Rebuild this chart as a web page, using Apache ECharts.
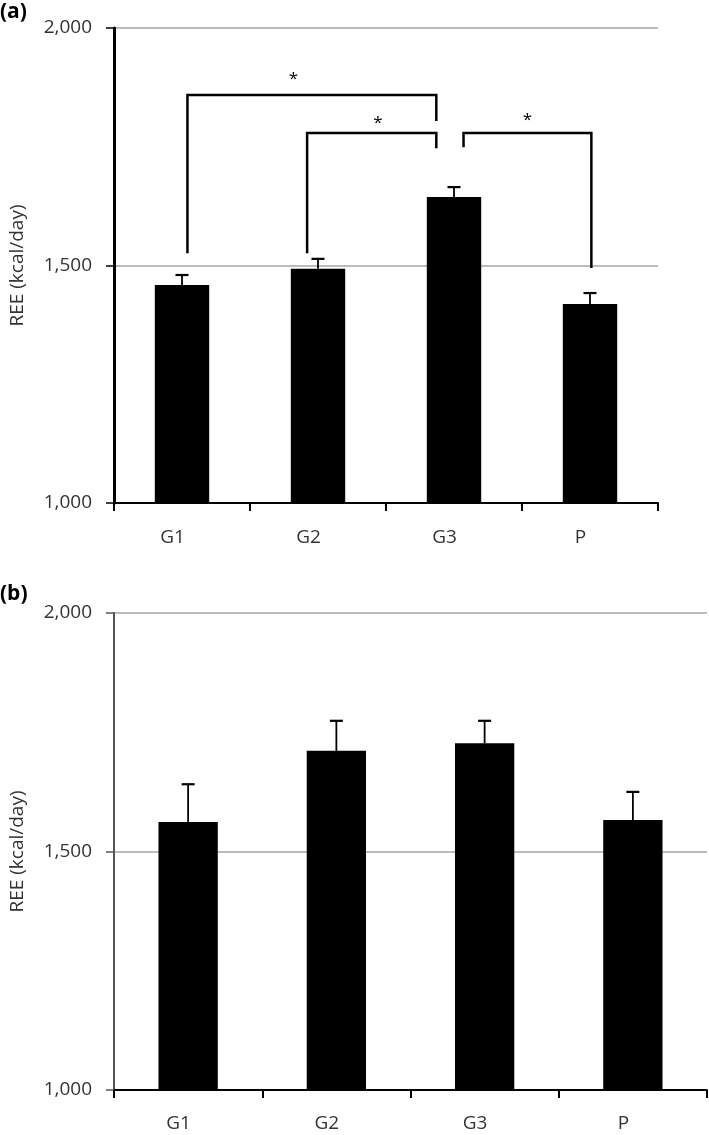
<!DOCTYPE html>
<html>
<head>
<meta charset="utf-8">
<script src="https://cdn.jsdelivr.net/npm/echarts@6/dist/echarts.min.js"></script>
<style>
html,body{margin:0;padding:0;background:#fff;}
#chart{width:709px;height:1135px;}
</style>
</head>
<body>
<div id="chart"></div>
<script>
// ---- data ----
const categories = ['G1', 'G2', 'G3', 'P'];
const yTicks = [1000, 1500, 2000];
const panelLabels = ['(a)', '(b)'];
const yAxisTitle = 'REE (kcal/day)';

// panel (a)
const reeA = [1459, 1493, 1644, 1419];
const errA = [21, 21, 21, 23];
// panel (b)
const reeB = [1562, 1711, 1727, 1566];
const errB = [79, 63, 47, 59];

// significance brackets in panel (a): x in category-index units, y in kcal/day
const bracketXLeft = [0.04, 0.92, 2.07];
const bracketXRight = [1.87, 1.87, 3.01];
const bracketYTop = [1859, 1779, 1779];
const bracketYLeft = [1526, 1526, 1749];
const bracketYRight = [1804, 1747, 1495];
const starX = [0.82, 1.44, 2.54];
const starY = [1893, 1800, 1807];
const starText = ['*', '*', '*'];

// ---- chart ----
const FONT = "'Open Sans', 'Noto Sans', sans-serif";
const chart = echarts.init(document.getElementById('chart'), null, {renderer: 'canvas'});

function yAxisCfg(gridIndex, lineColor, lineWidth) {
  return {
    type: 'value', gridIndex: gridIndex, min: yTicks[0], max: yTicks[yTicks.length - 1], interval: yTicks[1] - yTicks[0],
    name: yAxisTitle, nameLocation: 'middle', nameGap: 87,
    nameTextStyle: {fontFamily: FONT, fontSize: 19, color: '#333'},
    axisLine: {show: true, onZero: false, lineStyle: {color: lineColor, width: lineWidth}},
    axisTick: {show: true, length: 8, lineStyle: {color: lineColor, width: 1.5}},
    axisLabel: {
      margin: 22, fontFamily: FONT, fontSize: 19, color: '#333',
      formatter: v => v.toLocaleString('en-US')
    },
    splitLine: {show: true, lineStyle: {color: '#a6a6a6', width: 1.5}}
  };
}
function xAxisCfg(gridIndex, margin) {
  return {
    type: 'category', gridIndex: gridIndex, data: categories,
    axisLine: {show: true, onZero: false, lineStyle: {color: '#000', width: 2}},
    axisTick: {show: true, length: 8, alignWithLabel: false, lineStyle: {color: '#000', width: 2}},
    axisLabel: {margin: margin, fontFamily: FONT, fontSize: 19, color: '#333', padding: [0, 19, 0, 0]}
  };
}

function errorRender(params, api) {
  const i = api.value(0), v = api.value(1), e = api.value(2);
  const base = api.coord([i, v]);
  const top = api.coord([i, v + e]);
  const half = 6.5;
  return {
    type: 'group',
    children: [
      {type: 'line', shape: {x1: base[0], y1: base[1], x2: top[0], y2: top[1]}, style: {stroke: '#000', lineWidth: 1.8}},
      {type: 'line', shape: {x1: top[0] - half, y1: top[1], x2: top[0] + half, y2: top[1]}, style: {stroke: '#000', lineWidth: 2.2}}
    ]
  };
}

function bracketRender(params, api) {
  const xl = api.value(0), xr = api.value(1), yt = api.value(2), yl = api.value(3), yr = api.value(4);
  const p1 = api.coord([xl, yl]);
  const p2 = api.coord([xl, yt]);
  const p3 = api.coord([xr, yt]);
  const p4 = api.coord([xr, yr]);
  return {
    type: 'polyline',
    shape: {points: [p1, p2, p3, p4]},
    style: {stroke: '#000', lineWidth: 2.5, fill: null, lineJoin: 'miter'}
  };
}

function starRender(params, api) {
  const p = api.coord([api.value(0), api.value(1)]);
  return {
    type: 'text',
    x: p[0], y: p[1],
    style: {text: starText[params.dataIndex], fontSize: 17, fontFamily: FONT, fill: '#000',
            align: 'center', verticalAlign: 'middle'}
  };
}

const errDataA = categories.map((c, i) => [i, reeA[i], errA[i]]);
const errDataB = categories.map((c, i) => [i, reeB[i], errB[i]]);
const bracketData = bracketXLeft.map((x, i) => [x, bracketXRight[i], bracketYTop[i], bracketYLeft[i], bracketYRight[i]]);
const starData = starX.map((x, i) => [x, starY[i]]);

chart.setOption({
  animation: false,
  backgroundColor: '#fff',
  textStyle: {fontFamily: FONT},
  grid: [
    {left: 114, top: 28, width: 544, height: 475},
    {left: 114, top: 613, width: 593, height: 477}
  ],
  graphic: [
    {type: 'text', left: 0, top: 2, style: {text: panelLabels[0], fontSize: 21, fontWeight: 'bold', fontFamily: FONT, fill: '#000'}},
    {type: 'text', left: 0, top: 584, style: {text: panelLabels[1], fontSize: 21, fontWeight: 'bold', fontFamily: FONT, fill: '#000'}}
  ],
  xAxis: [
    xAxisCfg(0, 25),
    xAxisCfg(1, 24),
    {type: 'value', gridIndex: 0, min: -0.5, max: 3.5, show: false}
  ],
  yAxis: [yAxisCfg(0, '#000', 3), yAxisCfg(1, '#555', 2)],
  series: [
    {type: 'bar', xAxisIndex: 0, yAxisIndex: 0, data: reeA, barWidth: '40%', itemStyle: {color: '#000'}, z: 2},
    {type: 'custom', xAxisIndex: 0, yAxisIndex: 0, data: errDataA, renderItem: errorRender, z: 3},
    {type: 'bar', xAxisIndex: 1, yAxisIndex: 1, data: reeB, barWidth: '40%', itemStyle: {color: '#000'}, z: 2},
    {type: 'custom', xAxisIndex: 1, yAxisIndex: 1, data: errDataB, renderItem: errorRender, z: 3},
    {type: 'custom', xAxisIndex: 2, yAxisIndex: 0, data: bracketData, renderItem: bracketRender, z: 4,
     encode: {x: [0, 1], y: [2, 3, 4]}},
    {type: 'custom', xAxisIndex: 2, yAxisIndex: 0, data: starData, renderItem: starRender, z: 4}
  ]
});
</script>
</body>
</html>
